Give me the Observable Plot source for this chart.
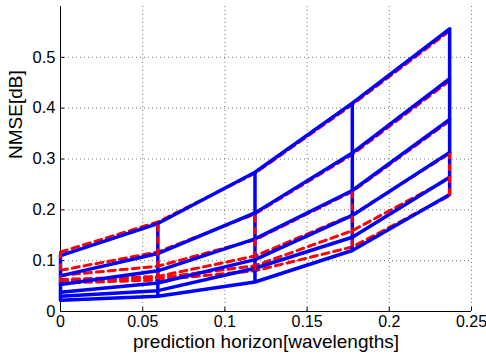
<!DOCTYPE html>
<html><head><meta charset="utf-8">
<script src="https://cdn.jsdelivr.net/npm/d3@7"></script>
<script src="https://cdn.jsdelivr.net/npm/@observablehq/plot@0.6"></script>
<style>html,body{margin:0;padding:0;background:#fff}svg{display:block}</style>
</head><body><div id="chart"></div>
<script>
// prediction horizon (wavelengths)
const horizon = [0, 0.0592, 0.1183, 0.1775, 0.2367];
// blue solid series (bottom to top)
const blue1 = [0.022, 0.030, 0.058, 0.120, 0.230];
const blue2 = [0.030, 0.041, 0.085, 0.146, 0.264];
const blue3 = [0.038, 0.056, 0.102, 0.189, 0.313];
const blue4 = [0.053, 0.080, 0.143, 0.238, 0.378];
const blue5 = [0.070, 0.114, 0.194, 0.312, 0.458];
const blue6 = [0.110, 0.173, 0.274, 0.410, 0.556];
// red dashed series (bottom to top)
const red1 = [0.056, 0.062, 0.080, 0.127, 0.228];
const red2 = [0.060, 0.066, 0.090, 0.159, 0.262];
const red3 = [0.063, 0.069, 0.109, 0.190, 0.311];
const red4 = [0.071, 0.089, 0.141, 0.236, 0.375];
const red5 = [0.081, 0.117, 0.192, 0.309, 0.454];
const red6 = [0.117, 0.176, 0.272, 0.407, 0.552];
// upper end of the red dashed vertical connectors at each horizon
const redLinkTop = [0.117, 0.176, 0.192, 0.236, 0.311];
// ticks and labels
const xTicks = [0, 0.05, 0.1, 0.15, 0.2, 0.25];
const yTicks = [0, 0.1, 0.2, 0.3, 0.4, 0.5];
const xTickLabels = ["0", "0.05", "0.1", "0.15", "0.2", "0.25"];
const yTickLabels = ["0", "0.1", "0.2", "0.3", "0.4", "0.5"];
const xLabel = "prediction horizon[wavelengths]";
const yLabel = "NMSE[dB]";

const blueSeries = [blue1, blue2, blue3, blue4, blue5, blue6];
const redSeries = [red1, red2, red3, red4, red5, red6];
const toRows = (series) => series.flatMap((s, i) => s.map((v, j) => ({x: horizon[j], y: v, s: i})));
const blueRows = toRows(blueSeries);
const redRows = toRows(redSeries);
const blueLinks = horizon.map((x, j) => ({x, y1: d3.min(blueSeries, s => s[j]), y2: d3.max(blueSeries, s => s[j])}));
const redLinks = horizon.map((x, j) => ({x, y1: red1[j], y2: redLinkTop[j]}));

const W = 486, H = 360, ML = 60, MR = 15, MT = 6, MB = 49;
const font = "'Liberation Sans', Arial, Helvetica, sans-serif";
const chart = Plot.plot({
  width: W, height: H,
  marginLeft: ML, marginRight: MR, marginTop: MT, marginBottom: MB,
  style: {fontFamily: font, fontSize: "16px", background: "#fff", color: "#000"},
  x: {domain: [0, 0.25]},
  y: {domain: [0, 0.6]},
  marks: [
    Plot.gridX(xTicks, {stroke: "#000", strokeOpacity: 0.55, strokeDasharray: "1,3"}),
    Plot.gridY(yTicks, {stroke: "#000", strokeOpacity: 0.55, strokeDasharray: "1,3"}),
    Plot.ruleX([0], {stroke: "#000", strokeWidth: 1}),
    Plot.ruleY([0], {stroke: "#000", strokeWidth: 1}),
    Plot.tickX(xTicks, {x: d => d, stroke: "#000", insetTop: H - MT - MB - 4}),
    Plot.tickY(yTicks, {y: d => d, stroke: "#000", insetRight: W - ML - MR - 4}),
    Plot.axisX(xTicks, {tickSize: 0, tickPadding: 4, tickFormat: (d, i) => xTickLabels[i], fontSize: 16, label: null}),
    Plot.axisY(yTicks, {tickSize: 0, tickPadding: 5, tickFormat: (d, i) => yTickLabels[i], fontSize: 16.5, label: null}),
    Plot.text([xLabel], {text: d => d, frameAnchor: "bottom", lineAnchor: "bottom", dy: 36, fontSize: 19, fill: "#000"}),
    Plot.text([yLabel], {text: d => d, frameAnchor: "left", rotate: -90, lineAnchor: "middle", dx: -45, fontSize: 19, fill: "#000"}),
    Plot.line(redRows, {x: "x", y: "y", z: "s", stroke: "#ff0000", strokeWidth: 3, strokeDasharray: "7,5"}),
    Plot.line(blueRows, {x: "x", y: "y", z: "s", stroke: "#0000ff", strokeWidth: 3.5}),
    Plot.ruleX(blueLinks, {x: "x", y1: "y1", y2: "y2", stroke: "#0000ff", strokeWidth: 3.5}),
    Plot.ruleX(redLinks, {x: "x", y1: "y1", y2: "y2", stroke: "#ff0000", strokeWidth: 3, strokeDasharray: "7,5"})
  ]
});
document.getElementById("chart").appendChild(chart);
</script>
</body></html>
